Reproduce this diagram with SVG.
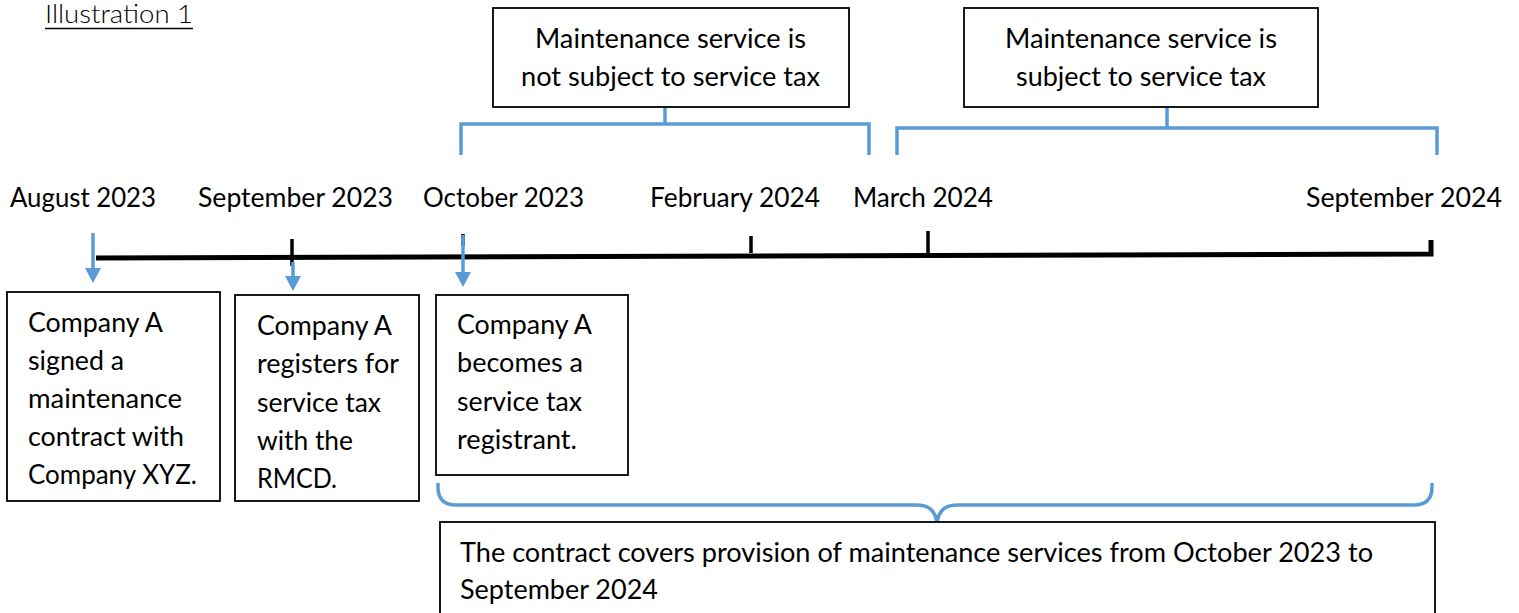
<svg xmlns="http://www.w3.org/2000/svg" width="1519" height="613" viewBox="0 0 1519 613">
  <style>
    text { font-family: Lato, "Liberation Sans", sans-serif; font-size: 26px; fill: #000; }
    .light { font-weight: 300; }
    .box { fill: #fff; stroke: #000; stroke-width: 1.8; }
    .blue { fill: none; stroke: #5B9BD5; stroke-width: 3.5; }
    .axis { fill: none; stroke: #000; stroke-width: 5; }
    .tick { fill: none; stroke: #000; stroke-width: 3.5; }
  </style>
  <defs>
    <marker id="head" markerUnits="userSpaceOnUse" markerWidth="16" markerHeight="17" refX="0" refY="8" orient="auto">
      <path d="M0,0 L15,8 L0,16 z" fill="#5B9BD5"/>
    </marker>
  </defs>
  <rect width="1519" height="613" fill="#fff"/>

  <!-- heading -->
  <g id="title">
    <text class="light" x="45" y="23" textLength="148" lengthAdjust="spacingAndGlyphs">Illustration 1</text>
    <line x1="45" y1="28.5" x2="193" y2="28.5" stroke="#000" stroke-width="1.5"/>
  </g>

  <!-- timeline axis with ticks -->
  <g id="timeline">
    <path class="axis" d="M96,258 L1431,254 L1431,240"/>
    <path class="tick" d="M292,239 V266"/>
    <path class="tick" d="M463,234 V246"/>
    <path class="tick" d="M751,236 V253"/>
    <path class="tick" d="M928,231 V257"/>
  </g>

  <!-- month labels -->
  <g id="dates">
    <text x="10" y="207" textLength="146" lengthAdjust="spacingAndGlyphs">August 2023</text>
    <text x="198" y="207" textLength="195" lengthAdjust="spacingAndGlyphs">September 2023</text>
    <text x="423" y="207" textLength="161" lengthAdjust="spacingAndGlyphs">October 2023</text>
    <text x="650" y="207" textLength="170" lengthAdjust="spacingAndGlyphs">February 2024</text>
    <text x="853" y="207" textLength="140" lengthAdjust="spacingAndGlyphs">March 2024</text>
    <text x="1306" y="207" textLength="196" lengthAdjust="spacingAndGlyphs">September 2024</text>
  </g>

  <!-- connectors: brackets, arrows and brace -->
  <g id="connectors">
    <path class="blue" d="M461,155 V124 H869 V155 M665,107 V124"/>
    <path class="blue" d="M897,155 V128 H1437 V155 M1167,107 V128"/>
    <line class="blue" x1="93" y1="233" x2="93" y2="268" marker-end="url(#head)"/>
    <line class="blue" x1="293" y1="262" x2="293" y2="276" marker-end="url(#head)"/>
    <line class="blue" x1="463" y1="235" x2="463" y2="272" marker-end="url(#head)"/>
    <path class="blue" d="M438,483 V487 Q438,505 456,505 H917 Q937,505 937,527 Q937,505 957,505 H1414 Q1432,505 1432,487 V483"/>
  </g>

  <!-- upper period boxes -->
  <g id="not-taxable">
    <rect class="box" x="493" y="8" width="356" height="99"/>
    <text x="535" y="48" textLength="271" lengthAdjust="spacingAndGlyphs">Maintenance service is</text>
    <text x="521" y="86" textLength="299" lengthAdjust="spacingAndGlyphs">not subject to service tax</text>
  </g>
  <g id="taxable">
    <rect class="box" x="964" y="8" width="354" height="99"/>
    <text x="1005" y="48" textLength="272" lengthAdjust="spacingAndGlyphs">Maintenance service is</text>
    <text x="1016" y="86" textLength="250" lengthAdjust="spacingAndGlyphs">subject to service tax</text>
  </g>

  <!-- event boxes -->
  <g id="signed">
    <rect class="box" x="7" y="292" width="213" height="209"/>
    <text x="28" y="332" textLength="135" lengthAdjust="spacingAndGlyphs">Company A</text>
    <text x="28" y="370" textLength="96" lengthAdjust="spacingAndGlyphs">signed a</text>
    <text x="28" y="408" textLength="154" lengthAdjust="spacingAndGlyphs">maintenance</text>
    <text x="28" y="446" textLength="156" lengthAdjust="spacingAndGlyphs">contract with</text>
    <text x="28" y="484" textLength="169" lengthAdjust="spacingAndGlyphs">Company XYZ.</text>
  </g>
  <g id="registers">
    <rect class="box" x="235" y="295" width="184" height="206"/>
    <text x="257" y="335" textLength="135" lengthAdjust="spacingAndGlyphs">Company A</text>
    <text x="257" y="373" textLength="142" lengthAdjust="spacingAndGlyphs">registers for</text>
    <text x="257" y="412" textLength="124" lengthAdjust="spacingAndGlyphs">service tax</text>
    <text x="257" y="450" textLength="96" lengthAdjust="spacingAndGlyphs">with the</text>
    <text x="257" y="488" textLength="80" lengthAdjust="spacingAndGlyphs">RMCD.</text>
  </g>
  <g id="registrant">
    <rect class="box" x="436" y="295" width="192" height="180"/>
    <text x="457" y="334" textLength="135" lengthAdjust="spacingAndGlyphs">Company A</text>
    <text x="457" y="372" textLength="126" lengthAdjust="spacingAndGlyphs">becomes a</text>
    <text x="457" y="411" textLength="125" lengthAdjust="spacingAndGlyphs">service tax</text>
    <text x="457" y="449" textLength="120" lengthAdjust="spacingAndGlyphs">registrant.</text>
  </g>

  <!-- contract period box -->
  <g id="contract">
    <rect class="box" x="440" y="522" width="995" height="110"/>
    <text x="460" y="562" textLength="913" lengthAdjust="spacingAndGlyphs">The contract covers provision of maintenance services from October 2023 to</text>
    <text x="460" y="599" textLength="198" lengthAdjust="spacingAndGlyphs">September 2024</text>
  </g>
</svg>
